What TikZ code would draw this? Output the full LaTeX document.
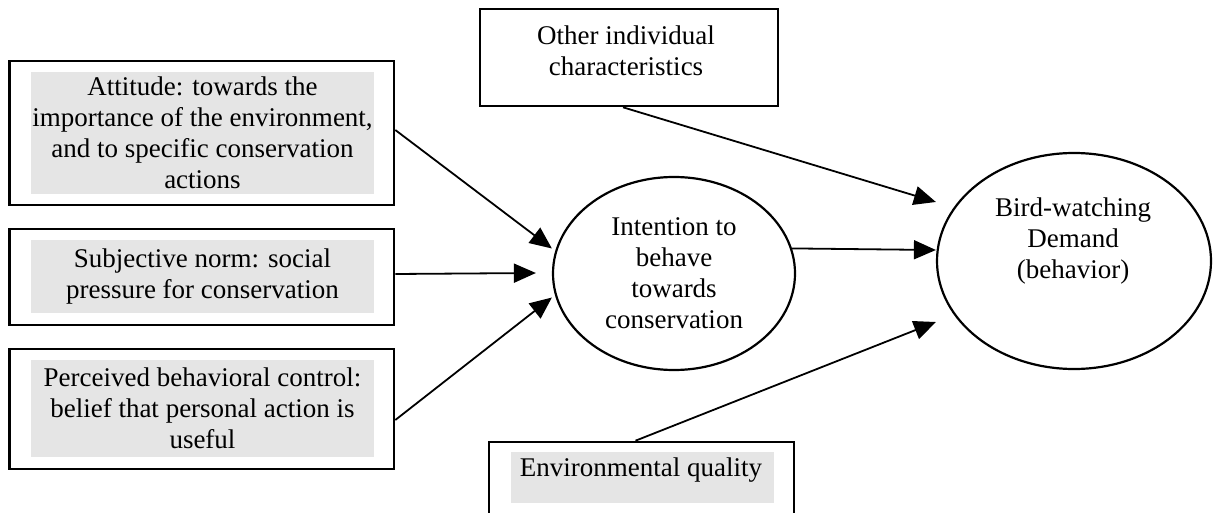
\documentclass[tikz,border=0pt]{standalone}
\usepackage{fontspec}
\setmainfont{Liberation Serif}
\usetikzlibrary{arrows.meta,shapes.geometric}
\definecolor{shade}{RGB}{229,229,229}
\begin{document}
\begin{tikzpicture}[x=1pt,y=-1pt,
  frame/.style={draw, line width=2.6pt, inner sep=0pt},
  panel/.style={fill=shade, inner sep=0pt, align=center, font=\fontsize{27}{31}\selectfont},
  plain/.style={align=center, inner sep=0pt, font=\fontsize{27}{31}\selectfont},
  oval/.style={draw, ellipse, line width=2.2pt, inner sep=0pt, align=center, font=\fontsize{27}{31}\selectfont},
  link/.style={line width=1.8pt, -{Triangle[length=22pt,width=19pt]}}]
\useasboundingbox (0,0) rectangle (1215,513);

% left column: the three antecedents of intention
\node[frame, minimum width=384.5pt, minimum height=144pt] (attbox) at (201.75,133) {};
\node[panel, minimum width=343pt, minimum height=122pt] (att) at (202.5,133)
  {Attitude: towards the\\importance of the environment,\\and to specific conservation\\actions};

\node[frame, minimum width=384.5pt, minimum height=96pt] (subbox) at (201.75,277) {};
\node[panel, minimum width=343pt, minimum height=73pt] (sub) at (202.5,276.5)
  {Subjective norm: social\\pressure for conservation};

\node[frame, minimum width=384.5pt, minimum height=120pt] (perbox) at (201.75,409) {};
\node[panel, minimum width=343pt, minimum height=97pt] (per) at (202.5,408.5)
  {Perceived behavioral control:\\belief that personal action is\\useful};

% top and bottom boxes
\node[frame, minimum width=298pt, minimum height=97pt] (otherbox) at (629,57.5) {};
\node[plain] (other) at (626,51) {Other individual\\characteristics};

\node[frame, minimum width=305pt, minimum height=72pt] (envbox) at (641.5,478) {};
\node[fill=shade, inner sep=0pt, minimum width=263pt, minimum height=51pt] (envpanel) at (642.5,477.5) {};
\node[plain] (env) at (641,470) {Environmental quality};

% ellipses
\node[oval, minimum width=242pt, minimum height=193pt] (int) at (674,273.5)
  {Intention to\\behave\\towards\\conservation};
\node[oval, minimum width=274pt, minimum height=216pt] (bird) at (1074,261) {};
\node[plain] (birdtxt) at (1073,241) {Bird-watching\\Demand\\(behavior)};

% connectors
\draw[link] ([yshift=3pt]attbox.east) -- ([yshift=25pt]int.west);
\draw[link] ([yshift=3pt]subbox.east) -- ([xshift=-16pt,yshift=0.5pt]int.west);
\draw[link] ([yshift=-11pt]perbox.east) -- ([yshift=-24pt]int.west);
\draw[link] (int.12) -- ([yshift=11pt]bird.west);
\draw[link] ([xshift=-6pt]otherbox.south) -- ([yshift=59pt]bird.west);
\draw[link] ([xshift=-6pt]envbox.north) -- ([yshift=-61pt]bird.west);
\end{tikzpicture}
\end{document}
